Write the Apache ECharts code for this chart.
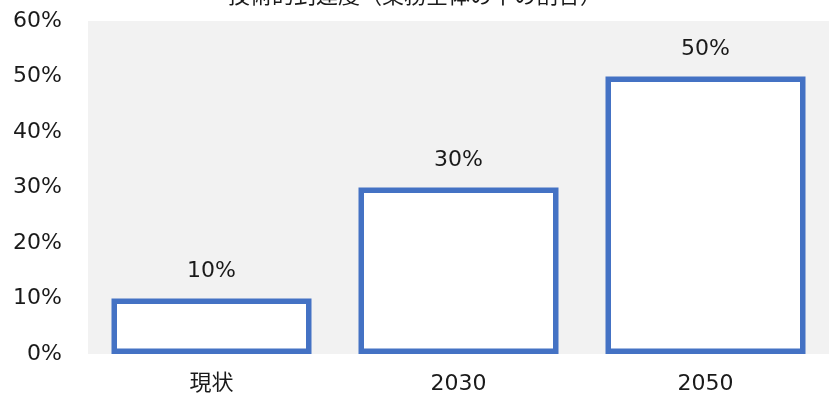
<!DOCTYPE html>
<html><head><meta charset="utf-8">
<script src="https://cdn.jsdelivr.net/npm/echarts@6/dist/echarts.min.js"></script>
<style>html,body{margin:0;padding:0;background:#fff}#c{width:829px;height:402px}</style>
</head><body><div id="c"></div>
<script>
const titleText = '技術的到達度（業務全体の中の割合）';
const categories = ['現状', '2030', '2050'];
const values = [10, 30, 50];
const yTicks = [0, 10, 20, 30, 40, 50, 60];

const chart = echarts.init(document.getElementById('c'));
const font = '"DejaVu Sans", "Noto Sans CJK JP", sans-serif';
const txt = '#1a1a1a';
chart.setOption({
  animation: false,
  title: {
    text: titleText, left: 410, textAlign: 'center', top: -19,
    textStyle: { fontSize: 22, fontWeight: 'normal', color: txt, fontFamily: font }
  },
  grid: { left: 88, right: 0, top: 21, bottom: 48, show: true, backgroundColor: '#f2f2f2', borderWidth: 0 },
  xAxis: {
    type: 'category', data: categories,
    axisLine: { show: false }, axisTick: { show: false },
    axisLabel: { fontSize: 22, color: txt, margin: 19, fontFamily: font }
  },
  yAxis: {
    type: 'value', min: yTicks[0], max: yTicks[yTicks.length - 1], interval: 10,
    splitLine: { show: false }, axisLine: { show: false }, axisTick: { show: false },
    axisLabel: { fontSize: 22, color: txt, margin: 26, fontFamily: font, formatter: v => v + '%' }
  },
  series: [{
    type: 'bar', data: values, barWidth: 200,
    itemStyle: { color: '#ffffff', borderColor: '#4472c4', borderWidth: 5.5 },
    label: { show: true, position: 'top', distance: 16, fontSize: 22, color: txt, fontFamily: font, formatter: p => p.value + '%' }
  }]
});
</script></body></html>
